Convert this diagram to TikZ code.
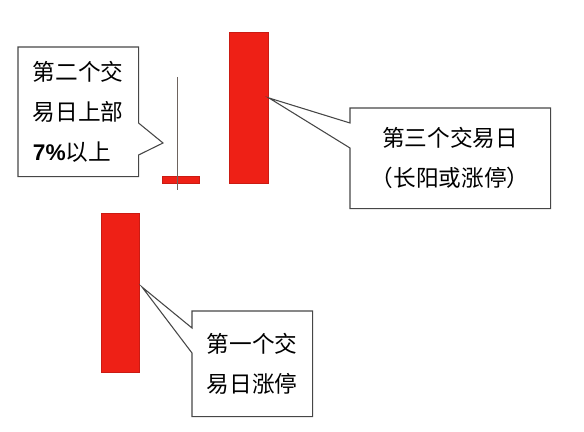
\documentclass[tikz,border=0pt]{standalone}
\usepackage{fontspec}
\usepackage{xcolor}
\usepackage{tikz}
\newfontfamily\cjk{Noto Sans CJK SC}
\definecolor{barred}{RGB}{238,32,22}
\definecolor{edgegray}{RGB}{70,70,70}
\definecolor{wickgray}{RGB}{110,100,95}
\tikzset{
	bar/.style={draw=barred!85!black, fill=barred, line width=0.3pt, inner sep=0pt, anchor=north west},
	tipbox/.style={inner sep=0pt, anchor=north west, font=\cjk\fontsize{17}{30}\selectfont},
	outline/.style={draw=edgegray, line width=0.8pt, line join=miter}
}

\begin{document}
\begin{tikzpicture}[x=0.75pt, y=-0.75pt]
		\useasboundingbox (0,0) rectangle (584,431);
		% candles
		\node[bar, minimum width=28.5pt, minimum height=119.25pt] (bar1) at (101,213) {};
		\node[bar, minimum width=27.75pt, minimum height=5.25pt] (bar2) at (162,176) {};
		\node[bar, minimum width=29.25pt, minimum height=113.25pt] (bar3) at (229,32) {};
		\draw[draw=wickgray, line width=0.6pt, solid] (177,77) -- (177,190);
		% callout boxes
		\node[tipbox, minimum width=90pt, minimum height=96.75pt, align=left] (box2) at (18,47) {第二个交\\易日上部\\{\fontspec{Liberation Sans}\bfseries 7\%}以上};
		\node[tipbox, minimum width=150pt, minimum height=75pt, align=center] (box3) at (350,108) {第三个交易日\\（长阳或涨停）};
		\node[tipbox, minimum width=90pt, minimum height=78.75pt, align=center] (box1) at (192,311) {第一个交\\易日涨停};
		\coordinate (tip2) at (163,143);
		\coordinate (tip3) at (269,98);
		\coordinate (tip1) at (142,287);
		\draw[outline] (box2.north west) -- (box2.north east) -- (box2.east |- 0,123) -- (tip2) -- (box2.east |- 0,155) -- (box2.south east) -- (box2.south west) -- cycle;
		\draw[outline] (box3.north west) -- (box3.north east) -- (box3.south east) -- (box3.south west) -- (box3.west |- 0,148) -- (tip3) -- (box3.west |- 0,123) -- cycle;
		\draw[outline] (box1.north west) -- (box1.north east) -- (box1.south east) -- (box1.south west) -- (box1.west |- 0,353) -- (tip1) -- (box1.west |- 0,328) -- cycle;
	\end{tikzpicture}
\end{document}
